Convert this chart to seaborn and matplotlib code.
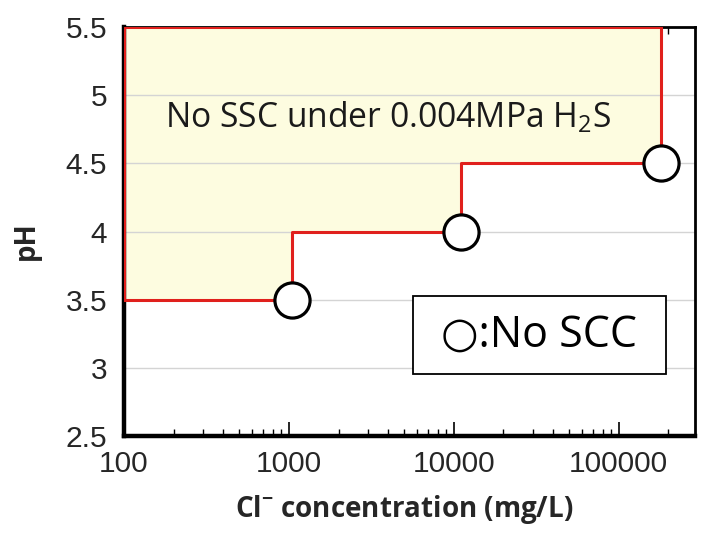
import numpy as np
import pandas as pd
import matplotlib
matplotlib.use("Agg")
import matplotlib.pyplot as plt
import seaborn as sns
from matplotlib.patches import Rectangle
from matplotlib.ticker import LogLocator, FixedLocator, NullFormatter

# ---- data ----
boundary_cl = [100, 1050, 1050, 11000, 11000, 180000, 180000, 100, 100]
boundary_ph = [3.5, 3.5, 4.0, 4.0, 4.5, 4.5, 5.5, 5.5, 3.5]
point_cl = [1050, 11000, 180000]
point_ph = [3.5, 4.0, 4.5]
x_ticks = [100, 1000, 10000, 100000]
x_tick_labels = ["100", "1000", "10000", "100000"]
y_ticks = [2.5, 3, 3.5, 4, 4.5, 5, 5.5]
y_tick_labels = ["2.5", "3", "3.5", "4", "4.5", "5", "5.5"]
region_text = "No SSC under 0.004MPa H$_2$S"
legend_text = "○:No SCC"

sns.set_theme(style="white")
plt.rcParams['font.family'] = ['Open Sans', 'DejaVu Sans']
plt.rcParams['mathtext.fontset'] = 'custom'
plt.rcParams['mathtext.rm'] = 'Open Sans'
plt.rcParams['mathtext.bf'] = 'Open Sans:bold'

fig = plt.figure(figsize=(7.02, 5.34), dpi=100)
ax = fig.add_axes([124/702, 1-436/534, (695-124)/702, (436-27)/534])

ax.set_xscale('log')
ax.set_xlim(100, 290000)
ax.set_ylim(2.5, 5.5)

# grid
for yv in y_ticks[1:-1]:
    ax.axhline(yv, color='#d4d4d4', lw=1.0, zorder=2)

# fill and boundary
ax.fill(boundary_cl, boundary_ph, color='#FDFCE0', zorder=1, lw=0)
sns.lineplot(x=boundary_cl, y=boundary_ph, sort=False, estimator=None,
             color='#E0201C', lw=2.2, ax=ax, zorder=4)

pts = pd.DataFrame({"cl": point_cl, "ph": point_ph})
sns.scatterplot(data=pts, x="cl", y="ph", s=640, marker='o', facecolor='white',
                edgecolor='black', linewidth=2.3, ax=ax, zorder=6, clip_on=False)

# ticks
ax.xaxis.set_major_locator(FixedLocator(x_ticks))
ax.set_xticklabels(x_tick_labels, fontsize=21.5, family=['Liberation Sans'])
ax.xaxis.set_minor_locator(LogLocator(base=10, subs=np.arange(2, 10)))
ax.xaxis.set_minor_formatter(NullFormatter())
ax.tick_params(axis='x', which='major', direction='in', length=10, width=1.2,
               color='black', top=True, bottom=True, pad=10)
ax.tick_params(axis='x', which='minor', direction='in', length=5, width=1.0,
               color='black', top=True, bottom=True)
ax.set_yticks(y_ticks)
ax.set_yticklabels(y_tick_labels, fontsize=21.5, family=['Liberation Sans'])
ax.tick_params(axis='y', which='both', length=0, pad=12)

for side in ['left', 'bottom']:
    ax.spines[side].set_color('black')
    ax.spines[side].set_linewidth(3.2)
for side in ['top', 'right']:
    ax.spines[side].set_color('black')
    ax.spines[side].set_linewidth(2.0)
    ax.spines[side].set_visible(True)
ax.spines['left'].set_zorder(3)

ax.set_xlabel("Cl$^{\\mathbf{-}}$ concentration (mg/L)", fontsize=20, fontweight='bold')
ax.xaxis.set_label_coords((404 - 124) / 571, -(510 - 436) / 409)
ax.xaxis.label.set_va('center')
ax.set_ylabel("pH", fontsize=20, fontweight='bold')
ax.yaxis.set_label_coords(-(124 - 26) / 571, (436 - 241) / 409)
ax.yaxis.label.set_va('center')

ax.text(0.072, 0.78, region_text, transform=ax.transAxes, fontsize=24.2,
        ha='left', va='center', color='#1a1a1a', zorder=7)

ax.add_patch(Rectangle((0.506, 0.152), 0.443, 0.19, transform=ax.transAxes,
                       facecolor='white', edgecolor='black', lw=1.3, zorder=7))
ax.text(0.7275, 0.247, legend_text, transform=ax.transAxes, fontsize=31,
        ha='center', va='center', color='black', zorder=8,
        family=['Open Sans', 'DejaVu Sans'])

fig.savefig("out.png", dpi=100)
